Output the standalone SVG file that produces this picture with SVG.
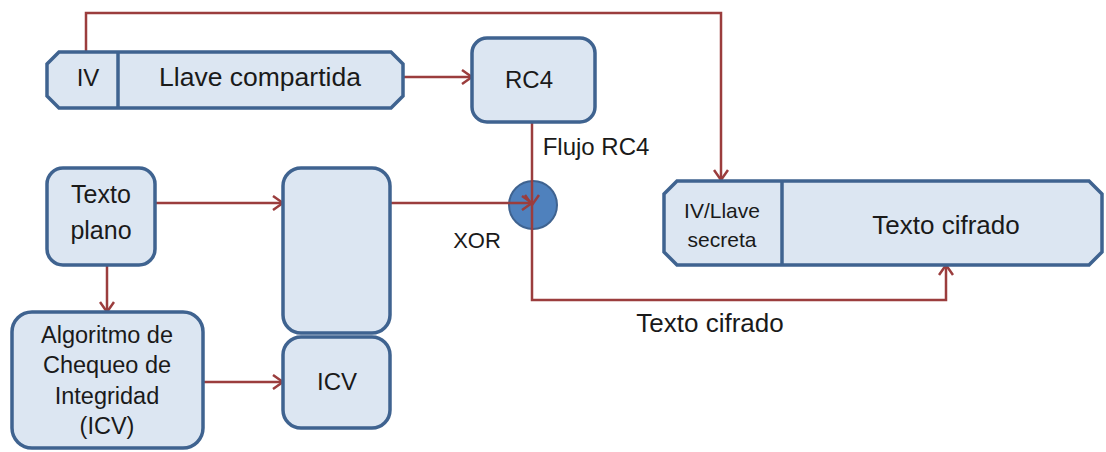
<svg xmlns="http://www.w3.org/2000/svg" width="1106" height="452" viewBox="0 0 1106 452">
<defs>
<marker id="arr" viewBox="0 0 12 16" refX="11" refY="8" markerWidth="12" markerHeight="16" markerUnits="userSpaceOnUse" orient="auto">
<path d="M1,1 L11,8 L1,15" fill="none" stroke="#9B3D3D" stroke-width="2.5"/>
</marker>
</defs>
<style>
.box{fill:#DCE6F2;stroke:#3F6390;stroke-width:3.5}
.div{stroke:#3F6390;stroke-width:3.5}
.con{fill:none;stroke:#9B3D3D;stroke-width:2.5}
.t{font-family:"Liberation Sans",Arial,sans-serif;fill:#1a1a1a;text-anchor:middle}
</style>
<rect width="1106" height="452" fill="#ffffff"/>
<g id="xor">
<circle cx="533" cy="205" r="24" fill="#4F81BD" stroke="#3F6390" stroke-width="2"/>
<text class="t" x="477" y="248" font-size="22">XOR</text>
</g>
<g id="connectors">
<path class="con" d="M86,52 V13 H721 V180" marker-end="url(#arr)"/>
<path class="con" d="M403,77 H472" marker-end="url(#arr)"/>
<path class="con" d="M532,122 V205" marker-end="url(#arr)"/>
<path class="con" d="M155,203 H283" marker-end="url(#arr)"/>
<path class="con" d="M107,265 V312" marker-end="url(#arr)"/>
<path class="con" d="M203,382 H283" marker-end="url(#arr)"/>
<path class="con" d="M390,203 H532" marker-end="url(#arr)"/>
<path class="con" d="M532,205 V300 H946 V265" marker-end="url(#arr)"/>
</g>
<g id="iv-llave">
<path class="box" d="M59,52 H391 L403,64 V96 L391,108 H59 L47,96 V64 Z"/>
<line class="div" x1="118" y1="52" x2="118" y2="108"/>
<text class="t" x="88" y="86" font-size="24">IV</text>
<text class="t" x="260" y="86" font-size="26.5">Llave compartida</text>
</g>
<g id="rc4">
<rect class="box" x="472" y="38" width="123" height="84" rx="15"/>
<text class="t" x="529" y="88" font-size="24">RC4</text>
</g>
<g id="flujo-label">
<text class="t" x="596" y="155" font-size="24">Flujo RC4</text>
</g>
<g id="texto-plano">
<rect class="box" x="47" y="168" width="108" height="97" rx="16"/>
<text class="t" x="101" y="203" font-size="25">Texto</text>
<text class="t" x="101" y="239" font-size="25">plano</text>
</g>
<g id="algoritmo">
<rect class="box" x="12" y="312" width="191" height="136" rx="20"/>
<text class="t" x="107" y="343" font-size="23.5">Algoritmo de</text>
<text class="t" x="107" y="373" font-size="23.5">Chequeo de</text>
<text class="t" x="107" y="404" font-size="23.5">Integridad</text>
<text class="t" x="107" y="434" font-size="23.5">(ICV)</text>
</g>
<g id="datos">
<rect class="box" x="283" y="168" width="107" height="165" rx="18"/>
</g>
<g id="icv">
<rect class="box" x="283" y="337" width="107" height="91" rx="18"/>
<text class="t" x="337" y="390" font-size="24">ICV</text>
</g>
<g id="cifrado-box">
<path class="box" d="M677,181 H1089 L1102,194 V252 L1089,265 H677 L664,252 V194 Z"/>
<line class="div" x1="782" y1="181" x2="782" y2="265"/>
<text class="t" x="722" y="218" font-size="21">IV/Llave</text>
<text class="t" x="722" y="247" font-size="21">secreta</text>
<text class="t" x="946" y="234" font-size="26">Texto cifrado</text>
</g>
<g id="cifrado-label">
<text class="t" x="710" y="332" font-size="26">Texto cifrado</text>
</g>
</svg>
